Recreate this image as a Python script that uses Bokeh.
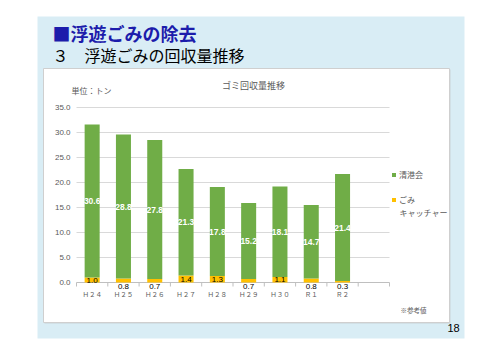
from bokeh.plotting import figure
from bokeh.models import ColumnDataSource, Legend, LegendItem, Range1d
from bokeh.core.properties import value
from bokeh.embed import file_html
from bokeh.resources import INLINE

# ---- data ----
categories = ["Ｈ２４", "Ｈ２５", "Ｈ２６", "Ｈ２７", "Ｈ２８", "Ｈ２９", "Ｈ３０", "Ｒ１", "Ｒ２"]
seikokai = [30.6, 28.8, 27.8, 21.3, 17.8, 15.2, 18.1, 14.7, 21.4]
gomi_catcher = [1.0, 0.8, 0.7, 1.4, 1.3, 0.7, 1.1, 0.8, 0.3]
series_names = ["清港会", "ごみ", "キャッチャー"]   # 2nd series name is wrapped: ごみ / キャッチャー
y_ticks = [0, 5, 10, 15, 20, 25, 30, 35]
y_max = 35

GREEN = "#70ad47"
YELLOW = "#ffc000"
GRAY_TXT = "#595959"
JP = "Noto Sans CJK JP"
NUM = "Liberation Sans"

# ---- layout (pixels) ----
W, H = 500, 354
PL, PR, PT, PB = 76, 389, 107, 282     # plot area
n = len(categories)
slot = (PR - PL) / (n + 1)             # one empty slot at the right
ypx = (PB - PT) / y_max

x_lo = -0.5 - PL / slot
y_lo = -(H - PB) / ypx
p = figure(width=W, height=H, output_backend="svg", toolbar_location=None,
           x_range=Range1d(x_lo, x_lo + W / slot), y_range=Range1d(y_lo, y_lo + H / ypx),
           x_axis_location=None, y_axis_location=None, min_border=0)
p.outline_line_color = None
p.background_fill_color = "white"
p.border_fill_color = "white"
p.grid.visible = False
p.extra_x_ranges = {"px": Range1d(0, W)}
p.extra_y_ranges = {"px": Range1d(H, 0)}
PX = dict(x_range_name="px", y_range_name="px")

# slide background and chart panel
p.quad(left=[37], right=[464], top=[16], bottom=[338], fill_color="#d9edf5",
       line_color=None, **PX)
p.quad(left=[44], right=[450], top=[69], bottom=[323], fill_color="#c9d3d8",
       line_color=None, **PX)
p.quad(left=[43], right=[449], top=[68], bottom=[322], fill_color="white",
       line_color="#cfcfcf", **PX)

xs = list(range(n))
left_edge, right_edge = -0.5, n + 0.5

# grid lines and axis
p.segment(x0=[left_edge] * (len(y_ticks) - 1), x1=[right_edge] * (len(y_ticks) - 1),
          y0=y_ticks[1:], y1=y_ticks[1:], line_color="#d9d9d9", line_width=1)
p.segment(x0=[left_edge], x1=[right_edge], y0=[y_ticks[0]], y1=[y_ticks[0]],
          line_color="#bfbfbf", line_width=1)
bounds = [i - 0.5 for i in range(n + 2)]
p.segment(x0=bounds, x1=bounds, y0=[0] * len(bounds), y1=[-4 / ypx] * len(bounds),
          line_color="#bfbfbf", line_width=1)

# tick labels
p.text(x=[left_edge] * len(y_ticks), y=y_ticks, text=[f"{t:.1f}" for t in y_ticks],
       x_offset=-6, text_align="right", text_baseline="middle",
       text_font=value(NUM), text_font_size="8px", text_color=GRAY_TXT)
p.text(x=xs, y=[0] * n, text=categories, y_offset=11, text_align="center",
       text_baseline="middle", text_font=value(JP), text_font_size="6.5px",
       text_color=GRAY_TXT)

src = ColumnDataSource(dict(
    x=xs,
    catcher=gomi_catcher,
    seikokai=seikokai,
    g_y=[c + s / 2 for c, s in zip(gomi_catcher, seikokai)],
    g_txt=[f"{s:.1f}" for s in seikokai],
    y_y=[c / 2 if c >= 1 else -3.5 / ypx for c in gomi_catcher],
    y_txt=[f"{c:.1f}" for c in gomi_catcher],
))

rs = p.vbar_stack(["catcher", "seikokai"], x="x", width=0.48, color=[YELLOW, GREEN],
                  line_color=None, source=src)

# data labels
p.text(x="x", y="g_y", text="g_txt", source=src, text_align="center",
       text_baseline="middle", text_font=value(NUM), text_font_size="8.5px",
       text_font_style="bold", text_color="white")
p.text(x="x", y="y_y", text="y_txt", source=src, text_align="center",
       text_baseline="middle", text_font=value(NUM), text_font_size="8px",
       text_color="black")

# legend
legend = Legend(items=[LegendItem(label=series_names[0], renderers=[rs[1]]),
                       LegendItem(label=series_names[1], renderers=[rs[0]])],
                location=(391, H - 205), glyph_width=5, glyph_height=5, label_standoff=3,
                label_text_font_size="8px", label_text_color=GRAY_TXT,
                label_text_font=JP, spacing=14,
                padding=0, margin=0, background_fill_alpha=0, border_line_color=None)
p.add_layout(legend)

# texts
def txt(s, x, y, size, color=GRAY_TXT, bold=False, align="left", font=JP):
    p.text(x=[x], y=[y], text=[s], text_font=value(font), text_font_size=size,
           text_color=color, text_align=align, text_baseline="middle",
           text_font_style="bold" if bold else "normal", **PX)

txt(series_names[2], 399, 212, "8px")
txt("■浮遊ごみの除去", 52, 32, "18px", color="#1c1cab", bold=True)
txt("３　浮遊ごみの回収量推移", 52, 54, "16px", color="black")
txt("ゴミ回収量推移", 253, 85, "9px", align="center")
txt("単位：トン", 71, 90, "8px")
txt("※参考値", 400, 309, "6.5px")
txt("18", 447, 327, "11px", color="black", font=NUM)

open("out.html", "w").write(file_html(p, INLINE))
